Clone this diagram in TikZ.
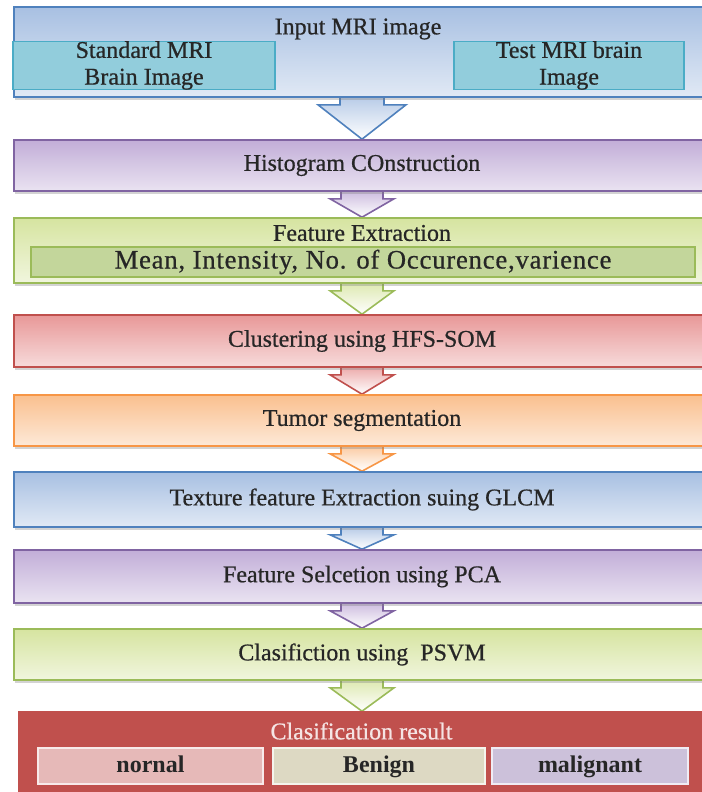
\documentclass[tikz,border=0pt]{standalone}
\usepackage{fontspec}
\setmainfont{Liberation Serif}
\newfontfamily\stagefont{Liberation Serif}[FakeBold=0.6]
\usetikzlibrary{calc,shadows,backgrounds}

\definecolor{blueline}{RGB}{79,129,189}
\definecolor{bluetop}{RGB}{168,192,226}
\definecolor{cyanbox}{RGB}{146,205,220}
\definecolor{cyanline}{RGB}{75,172,198}
\definecolor{purpleline}{RGB}{128,100,162}
\definecolor{purpletop}{RGB}{194,174,216}
\definecolor{greenline}{RGB}{155,187,89}
\definecolor{greentop}{RGB}{214,228,160}
\definecolor{greeninner}{RGB}{195,214,155}
\definecolor{redline}{RGB}{192,80,77}
\definecolor{redtop}{RGB}{232,152,152}
\definecolor{orangeline}{RGB}{247,150,70}
\definecolor{orangetop}{RGB}{250,192,143}
\definecolor{normalbox}{RGB}{230,185,184}
\definecolor{benignbox}{RGB}{221,217,195}
\definecolor{malignbox}{RGB}{204,193,218}

\tikzset{
  stage/.style 2 args={draw=#1, line width=1.2pt, top color=#2, bottom color=#2!35!white,
    minimum width=740*0.75pt, inner sep=0pt, text=black!85, anchor=west,
    drop shadow={shadow xshift=1pt,shadow yshift=-2.2pt,opacity=0.35}},
  subbox/.style 2 args={draw=#1, line width=0.8pt, fill=#2, inner sep=0pt, align=center, text=black!85},
  resultbox/.style 2 args={draw=white!70!#1, line width=0.8pt, fill=#1, inner sep=0pt, text=black!85,
    minimum width=#2*0.75pt, minimum height=36*0.75pt, text height=13pt, text depth=4pt,
    font=\fontsize{18}{20}\selectfont\bfseries},
  flow/.style 2 args={draw=#1, line width=1.2pt, top color=#2!80!white, bottom color=white},
}

\newcommand{\stagearrow}[5]{%
  \draw[#1] ($(axis |- #2.south)+(-#4,0)$) -- ($(axis |- #2.south)+(-#4,7)$) -- ($(axis |- #2.south)+(-#5,7)$)
    -- (axis |- #3.north) -- ($(axis |- #2.south)+(#5,7)$) -- ($(axis |- #2.south)+(#4,7)$)
    -- ($(axis |- #2.south)+(#4,0)$);
}

\begin{document}
\begin{tikzpicture}[x=0.75pt,y=-0.75pt,font=\stagefont\fontsize{18}{20}\selectfont]
\useasboundingbox (0,0) rectangle (701,792);
\coordinate (axis) at (362,0);

\node[stage={blueline}{bluetop}, minimum height=90*0.75pt] (input) at (13,52) {};
\node[text=black!85] (inputtitle) at (358,29) {Input MRI image};
\node[subbox={cyanline}{cyanbox}, minimum width=262*0.75pt, minimum height=47*0.75pt] (standard) at (144,65.5) {Standard MRI\\Brain Image};
\node[subbox={cyanline}{cyanbox}, minimum width=230*0.75pt, minimum height=47*0.75pt] (test) at (569,65.5) {Test MRI brain\\Image};

\node[stage={purpleline}{purpletop}, minimum height=51*0.75pt] (histogram) at (13,165.5) {};
\node[text=black!85] at (histogram.center -| axis) {Histogram COnstruction};

\node[stage={greenline}{greentop}, minimum height=65*0.75pt] (feature) at (13,250.5) {};
\node[text=black!85] (featuretitle) at (362,233) {Feature Extraction};
\node[subbox={greenline}{greeninner}, minimum width=664*0.75pt, minimum height=30*0.75pt, font=\stagefont\fontsize{20}{22}\selectfont\addfontfeature{LetterSpace=3}] (measures) at (363,262) {Mean, Intensity, No. of Occurence,varience};

\node[stage={redline}{redtop}, minimum height=52*0.75pt] (cluster) at (13,341) {};
\node[text=black!85] at (cluster.center -| axis) {Clustering using HFS-SOM};
\node[stage={orangeline}{orangetop}, minimum height=51*0.75pt] (tumor) at (13,420.5) {};
\node[text=black!85] at (tumor.center -| axis) {Tumor segmentation};
\node[stage={blueline}{bluetop}, minimum height=55*0.75pt] (texture) at (13,499.5) {};
\node[text=black!85] at (texture.center -| axis) {Texture feature Extraction suing GLCM};
\node[stage={purpleline}{purpletop}, minimum height=53*0.75pt] (selection) at (13,576.5) {};
\node[text=black!85] at (selection.center -| axis) {Feature Selcetion using PCA};
\node[stage={greenline}{greentop}, minimum height=51*0.75pt] (psvm) at (13,654.5) {};
\node[text=black!85] at (psvm.center -| axis) {Clasifiction using\ \ PSVM};

\node[draw=redline, fill=redline, line width=1.2pt, minimum width=740*0.75pt, minimum height=88*0.75pt, anchor=west,
  drop shadow={shadow xshift=1pt,shadow yshift=-2.2pt,opacity=0.35}] (result) at (18,756) {};
\node[text={rgb,255:red,245;green,228;blue,228}] (resulttitle) at (361.5,731) {Clasification result};
\node[resultbox={normalbox}{225}] (normal) at (150.5,766) {nornal};
\node[resultbox={benignbox}{212}] (benign) at (379,766) {Benign};
\node[resultbox={malignbox}{196}] (malignant) at (590,766) {malignant};

\begin{scope}[on background layer]
\stagearrow{flow={blueline}{bluetop}}{input}{histogram}{22}{44}
\stagearrow{flow={purpleline}{purpletop}}{histogram}{feature}{21}{32}
\stagearrow{flow={greenline}{greentop}}{feature}{cluster}{21}{32}
\stagearrow{flow={redline}{redtop}}{cluster}{tumor}{21}{32}
\stagearrow{flow={orangeline}{orangetop}}{tumor}{texture}{21}{32}
\stagearrow{flow={blueline}{bluetop}}{texture}{selection}{21}{32}
\stagearrow{flow={purpleline}{purpletop}}{selection}{psvm}{21}{32}
\stagearrow{flow={greenline}{greentop}}{psvm}{result}{21}{32}
\end{scope}
\end{tikzpicture}
\end{document}
